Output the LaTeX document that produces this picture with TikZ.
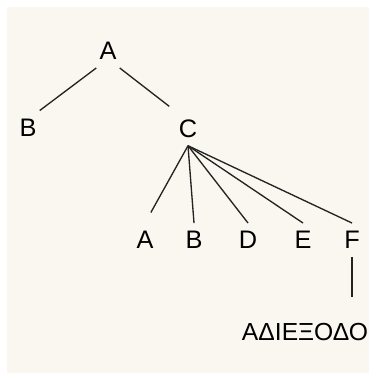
\documentclass[tikz,border=0pt]{standalone}
\usepackage{fontspec}
\setmainfont{Liberation Sans}
\definecolor{paper}{RGB}{250,247,240}
\definecolor{ink}{RGB}{35,35,35}

\begin{document}
\begin{tikzpicture}[
			x=0.75pt,y=-0.75pt,
			st/.style={
				font=\fontsize{19}{22}\selectfont,
				inner xsep=2.25pt,
				inner ysep=6pt
			},
			ln/.style={
				ink,
				line width=1pt
			}
			]
			\useasboundingbox (0,0) rectangle (369,374);
			\fill[paper] (7,7) rectangle (369,373);
			% root and first level
			\node[st](a) at (108,51){A};
			\node[st](b) at (28,127.5){B};
			\node[st](c) at (188,128.5){C};
			% children of C
			\node[st](ca) at (145,240){A};
			\node[st](cb) at (194,240){B};
			\node[st](cd) at (248,240){D};
			\node[st](ce) at (303,240){E};
			\node[st](cf) at (352,240){F};
			\node[st,font=\fontsize{18.5}{22}\selectfont](dead) at (305,332.5){ΑΔΙΕΞΟΔΟ};
			\draw[ln](a.south west)--(b.north east);
			\draw[ln,shorten >=6pt](a.south east)--(c.north west);
			\draw[ln,shorten >=9pt](c.south)--(ca.north);
			\draw[ln](c.south)--(cb.north);
			\draw[ln](c.south)--(cd.north);
			\draw[ln](c.south)--(ce.north);
			\draw[ln](c.south)--(cf.north);
			\draw[ln,shorten >=14pt](cf.south)--(cf.south |- dead.north);
		\end{tikzpicture}
\end{document}
